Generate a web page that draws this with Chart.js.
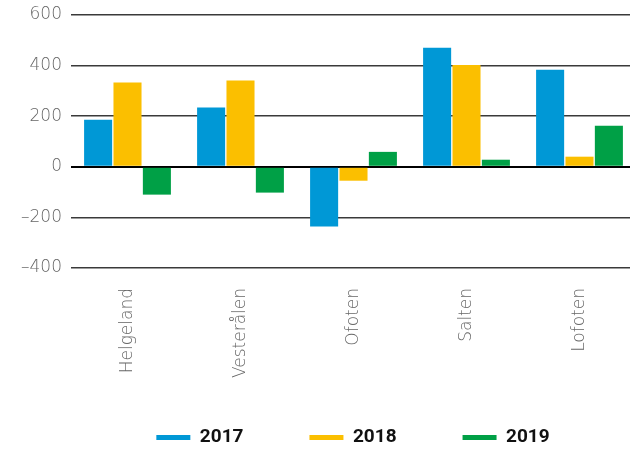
<!DOCTYPE html>
<html>
<head>
<meta charset="utf-8">
<script src="https://cdn.jsdelivr.net/npm/chart.js@4"></script>
<style>
    body { margin: 0; background: #fff; }
</style>
</head>
<body>
<canvas id="chart" width="630" height="452"></canvas>
<script>
/* ### Data ### */
const REGIONS = ['Helgeland', 'Vesterålen', 'Ofoten', 'Salten', 'Lofoten'];
const VALUES_2017 = [186, 234, -236, 471, 384];
const VALUES_2018 = [333, 341, -55, 402, 40];
const VALUES_2019 = [-110, -102, 59, 28, 162];
const Y_TICKS = [-400, -200, 0, 200, 400, 600];

const BLUE = '#0098d6';
const YELLOW = '#fbbf00';
const GREEN = '#00a046';

const TICK_FAMILY = '"DejaVu Sans", sans-serif';

function dataset(label, data, color) {
    return {
        label: label,
        data: data,
        backgroundColor: color,
        borderWidth: 0,
        categoryPercentage: 0.78,
        barPercentage: 0.955
    };
}

// Layout tweaks: plot runs slightly past the right edge,
// legend is centred under the plot area rather than the canvas
const layoutTweaks = {
    id: 'layoutTweaks',
    afterLayout(chart) {
        const x = chart.scales.x;
        x.right += 6;
        x.width += 6;
        x.configure();
        chart.chartArea.right += 6;
        chart.chartArea.width += 6;

        const lg = chart.legend;
        lg.left += 38;
        lg.right += 38;
        lg.top -= 16;
        lg.bottom = chart.height;
    }
};

new Chart(document.getElementById('chart').getContext('2d'), {
    type: 'bar',
    data: {
        labels: REGIONS,
        datasets: [
            dataset('2017', VALUES_2017, BLUE),
            dataset('2018', VALUES_2018, YELLOW),
            dataset('2019', VALUES_2019, GREEN)
        ]
    },
    plugins: [layoutTweaks],
    options: {
        responsive: false,
        animation: false,
        layout: { padding: 0 },
        scales: {
            x: {
                grid: { display: false, drawTicks: false },
                border: { display: false },
                ticks: {
                    color: '#666',
                    font: { family: TICK_FAMILY, size: 17, weight: 200 },
                    minRotation: 90,
                    maxRotation: 90,
                    padding: 20
                },
                afterFit: scale => {
                    scale.height = 110;
                    scale.paddingLeft = 0;
                    scale.paddingRight = 0;
                }
            },
            y: {
                min: Y_TICKS[0],
                max: Y_TICKS[Y_TICKS.length - 1],
                afterBuildTicks: scale => {
                    scale.ticks = Y_TICKS.map(v => ({ value: v }));
                },
                grid: {
                    drawTicks: false,
                    color: ctx => ctx.tick && ctx.tick.value === 0 ? '#000' : '#3a3a3a',
                    lineWidth: ctx => ctx.tick && ctx.tick.value === 0 ? 2 : 1.5
                },
                border: { display: false },
                ticks: {
                    color: '#666',
                    font: { family: TICK_FAMILY, size: 17, weight: 200 },
                    padding: 9,
                    callback: v => String(v).replace('-', '–')
                },
                afterFit: scale => {
                    scale.width = 71;
                    scale.paddingTop = 15;
                }
            }
        },
        plugins: {
            tooltip: { enabled: false },
            legend: {
                position: 'bottom',
                maxHeight: 74,
                labels: {
                    color: '#111',
                    font: { family: 'Roboto, "Liberation Sans", sans-serif', size: 19, weight: 'bold' },
                    boxWidth: 34,
                    boxHeight: 5,
                    padding: 66
                }
            }
        }
    }
});
</script>
</body>
</html>
